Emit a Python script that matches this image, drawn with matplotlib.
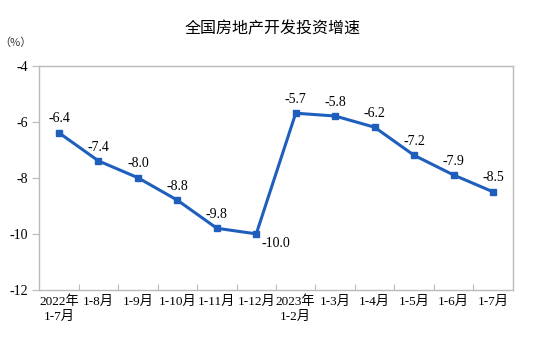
import matplotlib
matplotlib.use("Agg")
import matplotlib.pyplot as plt

categories = ["2022年\n1-7月", "1-8月", "1-9月", "1-10月", "1-11月", "1-12月",
              "2023年\n1-2月", "1-3月", "1-4月", "1-5月", "1-6月", "1-7月"]
values = [-6.4, -7.4, -8.0, -8.8, -9.8, -10.0, -5.7, -5.8, -6.2, -7.2, -7.9, -8.5]
yticks = [-12, -10, -8, -6, -4]
title = "全国房地产开发投资增速"

serif = ["Liberation Serif", "Noto Sans CJK SC"]
cjk = ["Noto Sans CJK SC", "DejaVu Sans"]

fig = plt.figure(figsize=(5.4, 3.37), dpi=100)
ax = fig.add_axes([0.0728, 0.1395, 0.8766, 0.6661])

color = "#1E5FBE"
x = list(range(len(values)))
ax.plot(x, values, color=color, lw=2.2, marker="s", ms=4.5, zorder=3)

for i, v in enumerate(values):
    if i == 5:
        ax.annotate(f"{v:.1f}", (i, v), xytext=(14, -7), textcoords="offset points",
                    ha="center", va="center", fontsize=10, family=serif)
    else:
        ax.annotate(f"{v:.1f}", (i, v), xytext=(0, 10), textcoords="offset points",
                    ha="center", va="center", fontsize=10, family=serif)

ax.set_xlim(-0.5, len(values) - 0.5)
ax.set_ylim(-12, -4)
ax.set_yticks(yticks)
ax.set_yticklabels([str(t) for t in yticks], family=serif, fontsize=10)

ax.set_xticks([i + 0.5 for i in range(len(values) - 1)])
ax.set_xticklabels([])
ax.set_xticks(x, minor=True)
ax.set_xticklabels(categories, minor=True, family=serif, fontsize=9.5, linespacing=1.25,
                   va="top")
ax.tick_params(axis="x", which="major", direction="in", length=4, color="#BBBBBB")
ax.tick_params(axis="x", which="minor", length=0, pad=4)
ax.tick_params(axis="y", direction="out", length=5, color="#BBBBBB", pad=3)

for s in ax.spines.values():
    s.set_color("#BBBBBB")
    s.set_linewidth(1.0)

fig.text(0.504, 0.915, title, ha="center", va="center", fontsize=11.5, family=cjk)
fig.text(0.028, 0.873, "（%）", ha="center", va="center", fontsize=8, family=cjk, color="#333333")

fig.savefig("out.png", dpi=100)
